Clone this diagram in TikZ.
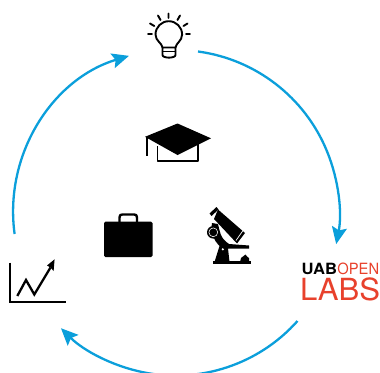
\documentclass[tikz,border=0pt]{standalone}
\usepackage{fontspec}
\setmainfont{TeX Gyre Heros}
\usetikzlibrary{arrows.meta}
\definecolor{arcblue}{HTML}{0B9FDB}
\definecolor{labred}{HTML}{E8412C}
\tikzset{
  cycle/.style={draw=arcblue,line width=2.3pt,-{Stealth[width=15pt,length=17pt,inset=3pt,fill=arcblue]}},
  icon/.style={draw=black,line width=1.9pt,line cap=round,line join=round},
  anchorpt/.style={inner sep=0pt,minimum size=0pt}
}
\begin{document}
\begin{tikzpicture}[x=1pt,y=-1pt]
\useasboundingbox (0,0) rectangle (380,372);
\fill[white] (0,0) rectangle (380,372);
% anchors of the connectors
\coordinate (c1) at (198,51.5);
\coordinate (c2) at (297.5,321);
\coordinate (c4) at (14.6,234);
% arcs
\draw[cycle] (c1) arc[start angle=-82.3,end angle=11,radius=163];
\draw[cycle] (c2) arc[start angle=41.7,end angle=134.8,radius=163];
\draw[cycle] (c4) arc[start angle=172.2,end angle=253.2,radius=163];
% bulb
\draw[icon] (162.5,47.5) .. controls (162,43) and (155.5,41) .. (155.5,34.5) arc[start angle=180,end angle=360,radius=13.3] .. controls (182.1,41) and (176,43) .. (175.5,47.5);
\draw[icon] (162.5,47.5) -- (162.5,55) .. controls (162.5,58.5) and (175.5,58.5) .. (175.5,55) -- (175.5,47.5) -- cycle;
\draw[icon,line width=1.2pt] (162.5,51.5) -- (175.5,51.5);
\draw[icon] (168.5,13.5) -- (168.5,18) (158,15.5) -- (160.5,20) (180,15.5) -- (177.5,20) (150,23.5) -- (154.3,26) (187.5,23.5) -- (183.5,26) (148,34) -- (152,34) (186,34) -- (190,34);
% graduation cap
\draw[icon,line cap=butt,line width=1.3pt] (157.5,146) -- (157.5,161) -- (198,161) -- (198,143);
\fill[black] (177.5,123.5) -- (211,138.3) -- (177.5,155) -- (145,136.8) -- cycle;
\draw[icon,line cap=butt,line width=2.4pt] (146.8,137) -- (146.8,156);
% briefcase
\draw[icon,line width=2.4pt] (119.5,222) -- (119.5,217.5) .. controls (119.5,215) and (120.5,214.5) .. (122.5,214.5) -- (134,214.5) .. controls (136,214.5) and (137,215) .. (137,217.5) -- (137,222);
\fill[black,rounded corners=1.5pt] (104,221.5) rectangle (152.5,257);
% microscope
\fill[black] (209.5,213.5) -- (216.5,207) -- (218.5,209.5) -- (211.5,216) -- cycle;
\fill[black] (214,219) -- (218,209.5) -- (245,233) -- (237,243.5) -- cycle;
\draw[white,line width=.7pt] (243,230.5) -- (236,240.5);
\fill[black] (212,223) -- (218,224) .. controls (220,232) and (220,238) .. (229,244) -- (249,245.5) -- (249,248.5) -- (228,248.5) -- (229.5,262) -- (214.5,262) -- (219.5,246) .. controls (214,240) and (210,234) .. (212,223) -- cycle;
\fill[black] (213.3,232.3) circle (6.3);
\draw[white,line width=.55pt] (213.3,232.3) circle (4.4);
\fill[white] (222.8,249.3) circle (1.2);
\fill[black] (212.5,261.3) rectangle (250.5,264);
\fill[black] (240,262) -- (241,258) -- (245.5,254.5) -- (247,256.5) -- (249,258) -- (249,262) -- cycle;
% chart
\draw[icon,line cap=butt,line join=miter,line width=2pt] (10,262.5) -- (10,301.7) -- (66,301.7);
\draw[icon,line width=2.3pt,line cap=butt,line join=miter] (17.3,296) -- (26,280) -- (34.3,294.5) -- (50.5,267.5);
\fill[black] (54.6,259.3) -- (53.6,271) -- (50.5,267.5) -- (47,265.5) -- cycle;
% logo
\node[anchorpt,anchor=base west,font=\bfseries\fontsize{15.5}{15.5}\selectfont\addfontfeatures{FakeStretch=1.07},text=black] (uab) at (301.5,274) {UAB};
\node[anchorpt,anchor=base west,font=\fontsize{15.5}{15.5}\selectfont\addfontfeatures{FakeStretch=.95},text=labred] (open) at (uab.base east) {OPEN};
\node[anchorpt,anchor=base west,font=\fontsize{30.5}{30.5}\selectfont\addfontfeatures{FakeStretch=1.02},text=labred] (labs) at (300,300.3) {LABS};
\end{tikzpicture}
\end{document}
